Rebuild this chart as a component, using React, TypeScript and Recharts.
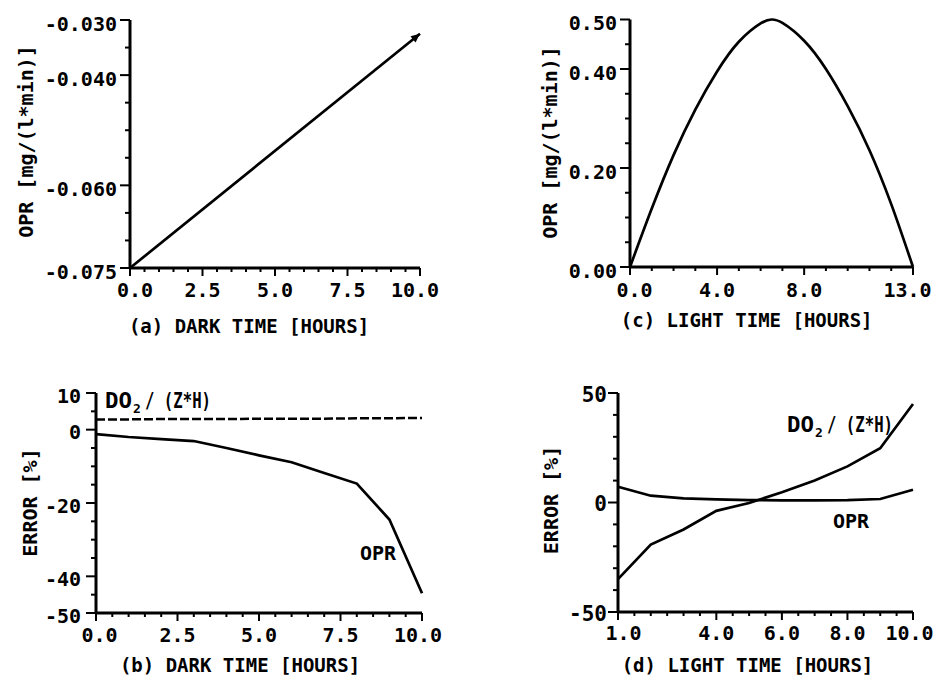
import React from 'react';
import { LineChart, Line, XAxis, YAxis, Label } from 'recharts';

const FONT = '"DejaVu Sans Mono", "Liberation Mono", monospace';

// ---------- Panel (a): OPR vs dark time ----------
const aHours = [0, 10];
const aOpr = [-0.075, -0.0325];
const aXMajor = [0, 2.5, 5, 7.5, 10];
const aXLabels = ['0.0', '2.5', '5.0', '7.5', '10.0'];
const aYMajor = [-0.075, -0.06, -0.04, -0.03];
const aYLabels = ['-0.075', '-0.060', '-0.040', '-0.030'];

// ---------- Panel (c): OPR vs light time ----------
const cHours = [0, 1, 2, 3, 4, 5, 6, 6.5, 7, 8, 9, 10, 11, 12, 13];
const cOpr = [0, 0.118, 0.226, 0.318, 0.395, 0.455, 0.492, 0.5, 0.493, 0.457, 0.4, 0.325, 0.236, 0.127, 0];
const cXMajor = [0, 4, 8, 13];
const cXLabels = ['0.0', '4.0', '8.0', '13.0'];
const cYMajor = [0, 0.2, 0.4, 0.5];
const cYLabels = ['0.00', '0.20', '0.40', '0.50'];

// ---------- Panel (b): error vs dark time ----------
const bHours = [0, 1, 2, 3, 4, 5, 6, 7, 8, 9, 10];
const bDo2 = [2.8, 2.8, 2.9, 2.9, 2.9, 3.0, 3.0, 3.0, 3.1, 3.1, 3.2];
const bOpr = [-1.2, -2.0, -2.6, -3.1, -5.0, -7.0, -8.9, -11.8, -14.7, -24.5, -44.6];
const bXMajor = [0, 2.5, 5, 7.5, 10];
const bXLabels = ['0.0', '2.5', '5.0', '7.5', '10.0'];
const bYMajor = [-50, -40, -20, 0, 10];
const bYLabels = ['-50', '-40', '-20', '0', '10'];

// ---------- Panel (d): error vs light time ----------
const dHours = [1, 2, 3, 4, 5, 6, 7, 8, 9, 10];
const dDo2 = [-35, -19.2, -12.3, -3.8, -0.2, 4.7, 10, 16.5, 24.8, 45];
const dOpr = [7.2, 3.1, 1.9, 1.4, 1.1, 1.0, 1.0, 1.1, 1.6, 5.8];
const dXMajor = [1, 4, 6, 8, 10];
const dXLabels = ['1.0', '4.0', '6.0', '8.0', '10.0'];
const dYMajor = [-50, 0, 50];
const dYLabels = ['-50', '0', '50'];

const steps = (from: number, to: number, step: number) => {
  const out: number[] = [];
  const n = Math.round((to - from) / step);
  for (let i = 0; i <= n; i++) out.push(+(from + i * step).toFixed(6));
  return out;
};

const aData = aHours.map((t, i) => ({ t, opr: aOpr[i] }));
const cData = cHours.map((t, i) => ({ t, opr: cOpr[i] }));
const bData = bHours.map((t, i) => ({ t, do2: bDo2[i], opr: bOpr[i] }));
const dData = dHours.map((t, i) => ({ t, do2: dDo2[i], opr: dOpr[i] }));

type YCfg = { major: number[]; labels: string[]; gap: number; dy: number; size: number };
const yTick = (cfg: YCfg) => (p: any) => {
  const v = p.payload.value;
  const idx = cfg.major.findIndex((m) => Math.abs(m - v) < 1e-7);
  const len = idx >= 0 ? 10 : 5;
  return (
    <g>
      <line x1={p.x - len} x2={p.x} y1={p.y} y2={p.y} stroke="#000" strokeWidth={2} />
      {idx >= 0 && (
        <text x={p.x - cfg.gap} y={p.y + cfg.dy} textAnchor="end" fontFamily={FONT} fontWeight="bold" fontSize={cfg.size} fill="#000">
          {cfg.labels[idx]}
        </text>
      )}
    </g>
  );
};

type XCfg = { major: number[]; labels: string[]; dy: number; firstDx: number; lastDx: number; size: number };
const xTick = (cfg: XCfg) => (p: any) => {
  const v = p.payload.value;
  const idx = cfg.major.findIndex((m) => Math.abs(m - v) < 1e-7);
  const len = idx >= 0 ? 8 : 4;
  const dx = idx === 0 ? cfg.firstDx : idx === cfg.major.length - 1 ? cfg.lastDx : 0;
  return (
    <g>
      <line x1={p.x} x2={p.x} y1={p.y} y2={p.y + len} stroke="#000" strokeWidth={2} />
      {idx >= 0 && (
        <text x={p.x + dx} y={p.y + cfg.dy} textAnchor="middle" fontFamily={FONT} fontWeight="bold" fontSize={cfg.size} fill="#000">
          {cfg.labels[idx]}
        </text>
      )}
    </g>
  );
};

const xTitle = (text: string, dx: number, dy: number) => (p: any) => (
  <text x={p.viewBox.x + dx} y={p.viewBox.y + dy} textAnchor="middle" fontFamily={FONT} fontWeight="bold" fontSize={19} fill="#000">
    {text}
  </text>
);

const yTitle = (text: string, x: number, dyc: number) => (p: any) => {
  const cy = p.viewBox.y + p.viewBox.height / 2 + dyc;
  return (
    <text x={x} y={cy} transform={`rotate(-90 ${x} ${cy})`} textAnchor="middle" fontFamily={FONT} fontWeight="bold" fontSize={20} fill="#000">
      {text}
    </text>
  );
};

const axisLine = { stroke: '#000', strokeWidth: 3 };

const Do2Label = ({ x, y }: { x: number; y: number }) => (
  <g fontFamily={FONT} fontWeight="bold" fill="#000">
    <text x={x} y={y} fontSize={21} textLength={27} lengthAdjust="spacingAndGlyphs">DO</text>
    <text x={x + 28} y={y + 5} fontSize={13}>2</text>
    <text x={x + 40} y={y} fontSize={21} textLength={66} lengthAdjust="spacingAndGlyphs">/ (Z*H)</text>
  </g>
);

const OprLabel = ({ x, y }: { x: number; y: number }) => (
  <text x={x} y={y} fontFamily={FONT} fontWeight="bold" fontSize={20} fill="#000">
    OPR
  </text>
);

const arrowDot = (last: number) => (p: any) => {
  if (p.index !== last) return <g key={`d${p.index}`} />;
  return (
    <path key={`d${p.index}`} d="M0,0 L-9,-4 L-9,4 Z" fill="#000" transform={`translate(${p.cx},${p.cy}) rotate(-39)`} />
  );
};

export default function App() {
  return (
    <div style={{ position: 'absolute', left: 0, top: 0, width: 934, height: 676, background: '#fff', overflow: 'hidden' }}>
      {/* (a) */}
      <div style={{ position: 'absolute', left: 0, top: 0 }}>
        <LineChart width={467} height={340} data={aData} margin={{ top: 20, right: 47, bottom: 0, left: 0 }}>
          <XAxis
            type="number"
            dataKey="t"
            domain={[0, 10]}
            ticks={steps(0, 10, 0.5)}
            interval={0}
            tickLine={false}
            tickSize={0}
            tickMargin={0}
            axisLine={axisLine}
            height={72}
            tick={xTick({ major: aXMajor, labels: aXLabels, dy: 29, firstDx: 5, lastDx: -5, size: 20 })}
          >
            <Label content={xTitle('(a) DARK TIME [HOURS]', 119, 65)} />
          </XAxis>
          <YAxis
            type="number"
            domain={[-0.075, -0.03]}
            ticks={steps(-0.075, -0.03, 0.005)}
            interval={0}
            tickLine={false}
            tickSize={0}
            tickMargin={0}
            axisLine={axisLine}
            width={130}
            tick={yTick({ major: aYMajor, labels: aYLabels, gap: 13, dy: 11, size: 20 })}
          >
            <Label content={yTitle('OPR [mg/(l*min)]', 33, -2.5)} />
          </YAxis>
          <Line type="linear" dataKey="opr" stroke="#000" strokeWidth={2.7} dot={arrowDot(aHours.length - 1)} activeDot={false} isAnimationActive={false} />
        </LineChart>
      </div>

      {/* (c) */}
      <div style={{ position: 'absolute', left: 467, top: 0 }}>
        <LineChart width={467} height={340} data={cData} margin={{ top: 19.5, right: 21, bottom: 0, left: 0 }}>
          <XAxis
            type="number"
            dataKey="t"
            domain={[0, 13]}
            ticks={steps(0, 13, 1)}
            interval={0}
            tickLine={false}
            tickSize={0}
            tickMargin={0}
            axisLine={axisLine}
            height={73}
            tick={xTick({ major: cXMajor, labels: cXLabels, dy: 30, firstDx: 4.5, lastDx: -5.5, size: 20 })}
          >
            <Label content={xTitle('(c) LIGHT TIME [HOURS]', 116.7, 60)} />
          </XAxis>
          <YAxis
            type="number"
            domain={[0, 0.5]}
            ticks={steps(0, 0.5, 0.05)}
            interval={0}
            tickLine={false}
            tickSize={0}
            tickMargin={0}
            axisLine={axisLine}
            width={163}
            tick={yTick({ major: cYMajor, labels: cYLabels, gap: 13, dy: 10.5, size: 20 })}
          >
            <Label content={yTitle('OPR [mg/(l*min)]', 90, -0.75)} />
          </YAxis>
          <Line type="natural" dataKey="opr" stroke="#000" strokeWidth={2.7} dot={false} activeDot={false} isAnimationActive={false} />
        </LineChart>
      </div>

      {/* (b) */}
      <div style={{ position: 'absolute', left: 0, top: 340 }}>
        <LineChart width={467} height={336} data={bData} margin={{ top: 53, right: 45, bottom: 0, left: 0 }}>
          <XAxis
            type="number"
            dataKey="t"
            domain={[0, 10]}
            ticks={steps(0, 10, 0.5)}
            interval={0}
            tickLine={false}
            tickSize={0}
            tickMargin={0}
            axisLine={axisLine}
            height={63}
            tick={xTick({ major: bXMajor, labels: bXLabels, dy: 29, firstDx: 3.5, lastDx: -4, size: 20 })}
          >
            <Label content={xTitle('(b) DARK TIME [HOURS]', 144, 59)} />
          </XAxis>
          <YAxis
            type="number"
            domain={[-50, 10]}
            ticks={steps(-50, 10, 5)}
            interval={0}
            tickLine={false}
            tickSize={0}
            tickMargin={0}
            axisLine={axisLine}
            width={96}
            tick={yTick({ major: bYMajor, labels: bYLabels, gap: 15, dy: 9.5, size: 20 })}
          >
            <Label content={yTitle('ERROR [%]', 37, -0.5)} />
          </YAxis>
          <Line type="linear" dataKey="do2" stroke="#000" strokeWidth={2.5} strokeDasharray="9 3" dot={false} activeDot={false} isAnimationActive={false} />
          <Line type="linear" dataKey="opr" stroke="#000" strokeWidth={2.7} dot={false} activeDot={false} isAnimationActive={false} />
          <Do2Label x={105} y={68} />
          <OprLabel x={360} y={220} />
        </LineChart>
      </div>

      {/* (d) */}
      <div style={{ position: 'absolute', left: 467, top: 340 }}>
        <LineChart width={467} height={336} data={dData} margin={{ top: 53, right: 21, bottom: 0, left: 0 }}>
          <XAxis
            type="number"
            dataKey="t"
            domain={[1, 10]}
            ticks={steps(1, 10, 0.5)}
            interval={0}
            tickLine={false}
            tickSize={0}
            tickMargin={0}
            axisLine={axisLine}
            height={64}
            tick={xTick({ major: dXMajor, labels: dXLabels, dy: 28, firstDx: 5.5, lastDx: -3.5, size: 20 })}
          >
            <Label content={xTitle('(d) LIGHT TIME [HOURS]', 129.5, 60)} />
          </XAxis>
          <YAxis
            type="number"
            domain={[-50, 50]}
            ticks={steps(-50, 50, 10)}
            interval={0}
            tickLine={false}
            tickSize={0}
            tickMargin={0}
            axisLine={axisLine}
            width={151}
            tick={yTick({ major: dYMajor, labels: dYLabels, gap: 11, dy: 8.5, size: 21 })}
          >
            <Label content={yTitle('ERROR [%]', 91, -2.5)} />
          </YAxis>
          <Line type="linear" dataKey="opr" stroke="#000" strokeWidth={2.7} dot={false} activeDot={false} isAnimationActive={false} />
          <Line type="linear" dataKey="do2" stroke="#000" strokeWidth={2.7} dot={false} activeDot={false} isAnimationActive={false} />
          <Do2Label x={320} y={92} />
          <OprLabel x={366} y={188} />
        </LineChart>
      </div>
    </div>
  );
}
